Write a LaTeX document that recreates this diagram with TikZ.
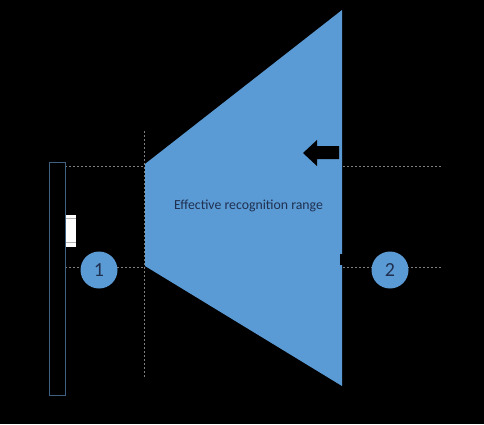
\documentclass[tikz,border=0pt]{standalone}
\usepackage{fontspec}
\setmainfont{Carlito}
\definecolor{fillblue}{HTML}{5B9BD5}
\definecolor{navy}{HTML}{1F3050}
\definecolor{dashgray}{HTML}{7F7F7F}
\definecolor{railblue}{HTML}{3F6080}
\begin{document}
\begin{tikzpicture}[x=1pt,y=-1pt,
  guide/.style={draw=dashgray,line width=0.6pt,dash pattern=on 2pt off 2pt},
  marker/.style={circle,fill=fillblue,minimum size=37pt,inner sep=0pt,text=navy,font=\fontsize{20}{20}\selectfont},
  label/.style={text=navy,font=\fontsize{13.8}{15}\selectfont}]
\useasboundingbox[fill=black] (0,0) rectangle (484,424);
% range trapezoid
\fill[fillblue] (145,164) -- (342,10) -- (342,386) -- (145,266) -- cycle;
\fill[black] (340,254) rectangle (344,265);
% guides
\coordinate (vt) at (144,131);
\coordinate (vb) at (144,378);
\draw[guide] (vt) -- (vb);
\coordinate (l1a) at (65,166); \coordinate (l1b) at (145,166);
\coordinate (l2a) at (65,267); \coordinate (l2b) at (145,267);
\coordinate (r1a) at (343,166); \coordinate (r1b) at (441,166);
\coordinate (r2a) at (343,267); \coordinate (r2b) at (441,267);
\draw[guide] (l1a) -- (l1b);
\draw[guide] (l2a) -- (l2b);
\draw[guide] (r1a) -- (r1b);
\draw[guide] (r2a) -- (r2b);
% left rail
\draw[railblue,line width=0.8pt] (49,162) rectangle (65,395);
% small white device
\fill[white] (66,215) rectangle (76,247);
\draw[gray!60,line width=0.6pt] (66,242) -- (76,242);
\draw[gray!60,line width=0.4pt] (66,218) -- (76,218);
% arrow
\fill[black] (339,146) -- (317,146) -- (317,140) -- (303,153) -- (317,166) -- (317,159) -- (339,159) -- cycle;
% markers
\node[marker] (m1) at (99,270) {1};
\node[marker] (m2) at (390,270) {2};
\node[label] (t) at (248.5,206) {Effective recognition range};
\end{tikzpicture}
\end{document}
